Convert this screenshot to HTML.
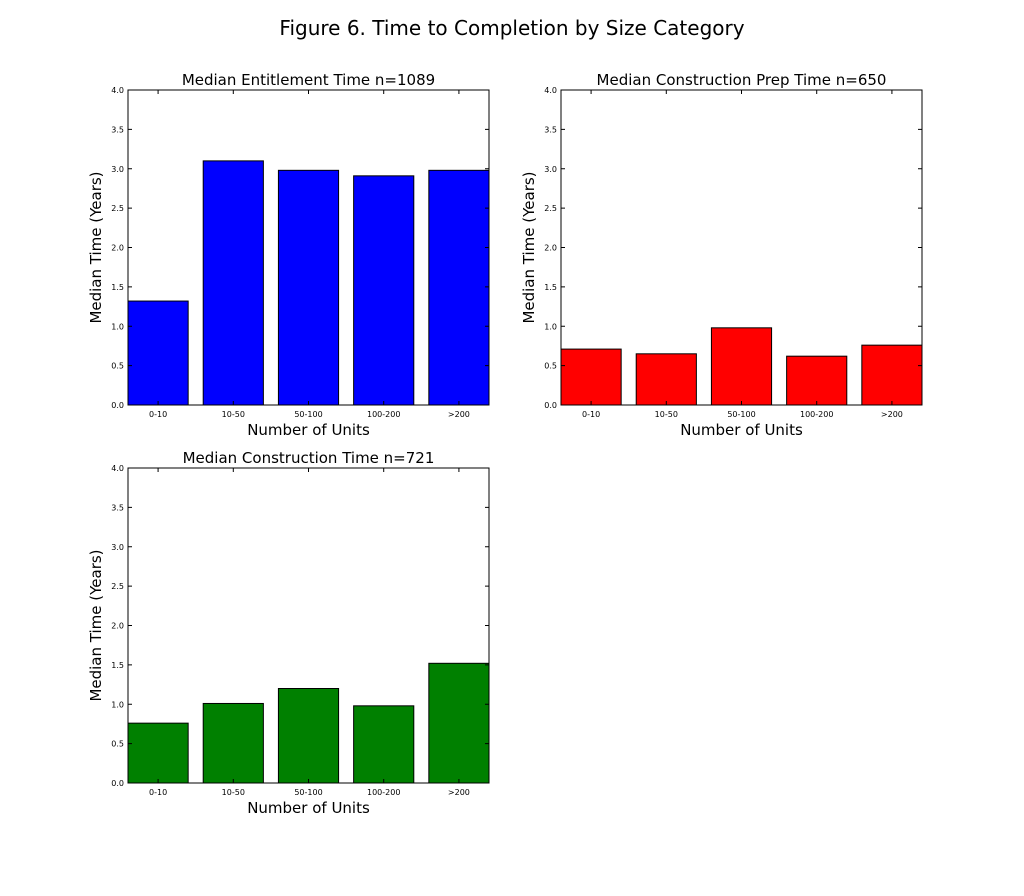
<!DOCTYPE html>
<html><head><meta charset="utf-8"><style>
html,body{margin:0;padding:0;background:#fff;}
svg{display:block;font-family:"DejaVu Sans","Liberation Sans",sans-serif;}
</style></head><body>
<svg id="fig" width="1024" height="896" viewBox="0 0 1024 896">
<rect width="1024" height="896" fill="#fff"/>
<text x="512" y="35" font-size="20" text-anchor="middle">Figure 6. Time to Completion by Size Category</text>
</svg>
<script>
const categories = ["0-10","10-50","50-100","100-200",">200"];
const entitlementValues = [1.32, 3.10, 2.98, 2.91, 2.98];
const prepValues = [0.71, 0.65, 0.98, 0.62, 0.76];
const constructionValues = [0.76, 1.01, 1.20, 0.98, 1.52];
const yTicks = ["0.0","0.5","1.0","1.5","2.0","2.5","3.0","3.5","4.0"];

const NS = "http://www.w3.org/2000/svg";
const svg = document.getElementById("fig");
function mk(tag, attrs, parent){
  const e = document.createElementNS(NS, tag);
  for (const k in attrs) e.setAttribute(k, attrs[k]);
  (parent || svg).appendChild(e);
  return e;
}
function panel(key, title, values, color, L, T){
  const W = 361, H = 315, R = L + W, B = T + H;
  const g = mk("g", {});
  
  
  const xs = v => L + v / 4.8 * W;
  const ys = v => B - v / 4 * H;
  values.forEach((v, i) => {
    const r = mk("rect", {x: xs(i), y: ys(v), width: xs(i + 0.8) - xs(i), height: B - ys(v), fill: color, stroke: "#000", "stroke-width": 1}, g);
    
    
  });
  mk("rect", {x: L, y: T, width: W, height: H, fill: "none", stroke: "#000", "stroke-width": 1}, g);
  yTicks.forEach(t => {
    const y = ys(parseFloat(t));
    mk("line", {x1: L, x2: L + 4, y1: y, y2: y, stroke: "#000"}, g);
    mk("line", {x1: R, x2: R - 4, y1: y, y2: y, stroke: "#000"}, g);
    const tx = mk("text", {x: L - 4, y: y + 3, "font-size": 8, "text-anchor": "end"}, g);
    tx.textContent = t;
    
    
  });
  categories.forEach((c, i) => {
    const x = xs(i + 0.4);
    mk("line", {x1: x, x2: x, y1: B, y2: B - 4, stroke: "#000"}, g);
    mk("line", {x1: x, x2: x, y1: T, y2: T + 4, stroke: "#000"}, g);
    const tx = mk("text", {x: x, y: B + 12, "font-size": 8, "text-anchor": "middle"}, g);
    tx.textContent = c;
    
    
  });
  const tt = mk("text", {x: L + W / 2, y: T - 5, "font-size": 15, "text-anchor": "middle"}, g);
  tt.textContent = title;
  
  
  const xl = mk("text", {x: L + W / 2, y: B + 30, "font-size": 15, "text-anchor": "middle"}, g);
  xl.textContent = "Number of Units";
  
  
  const yl = mk("text", {x: 0, y: 0, "font-size": 15, "text-anchor": "middle", transform: "translate(" + (L - 27) + "," + (T + H / 2) + ") rotate(-90)"}, g);
  yl.textContent = "Median Time (Years)";
  
  
}
panel("entitlement", "Median Entitlement Time n=1089", entitlementValues, "#0000ff", 128, 90);
panel("prep", "Median Construction Prep Time n=650", prepValues, "#ff0000", 561, 90);
panel("construction", "Median Construction  Time n=721", constructionValues, "#008000", 128, 468);
</script>
</body></html>
